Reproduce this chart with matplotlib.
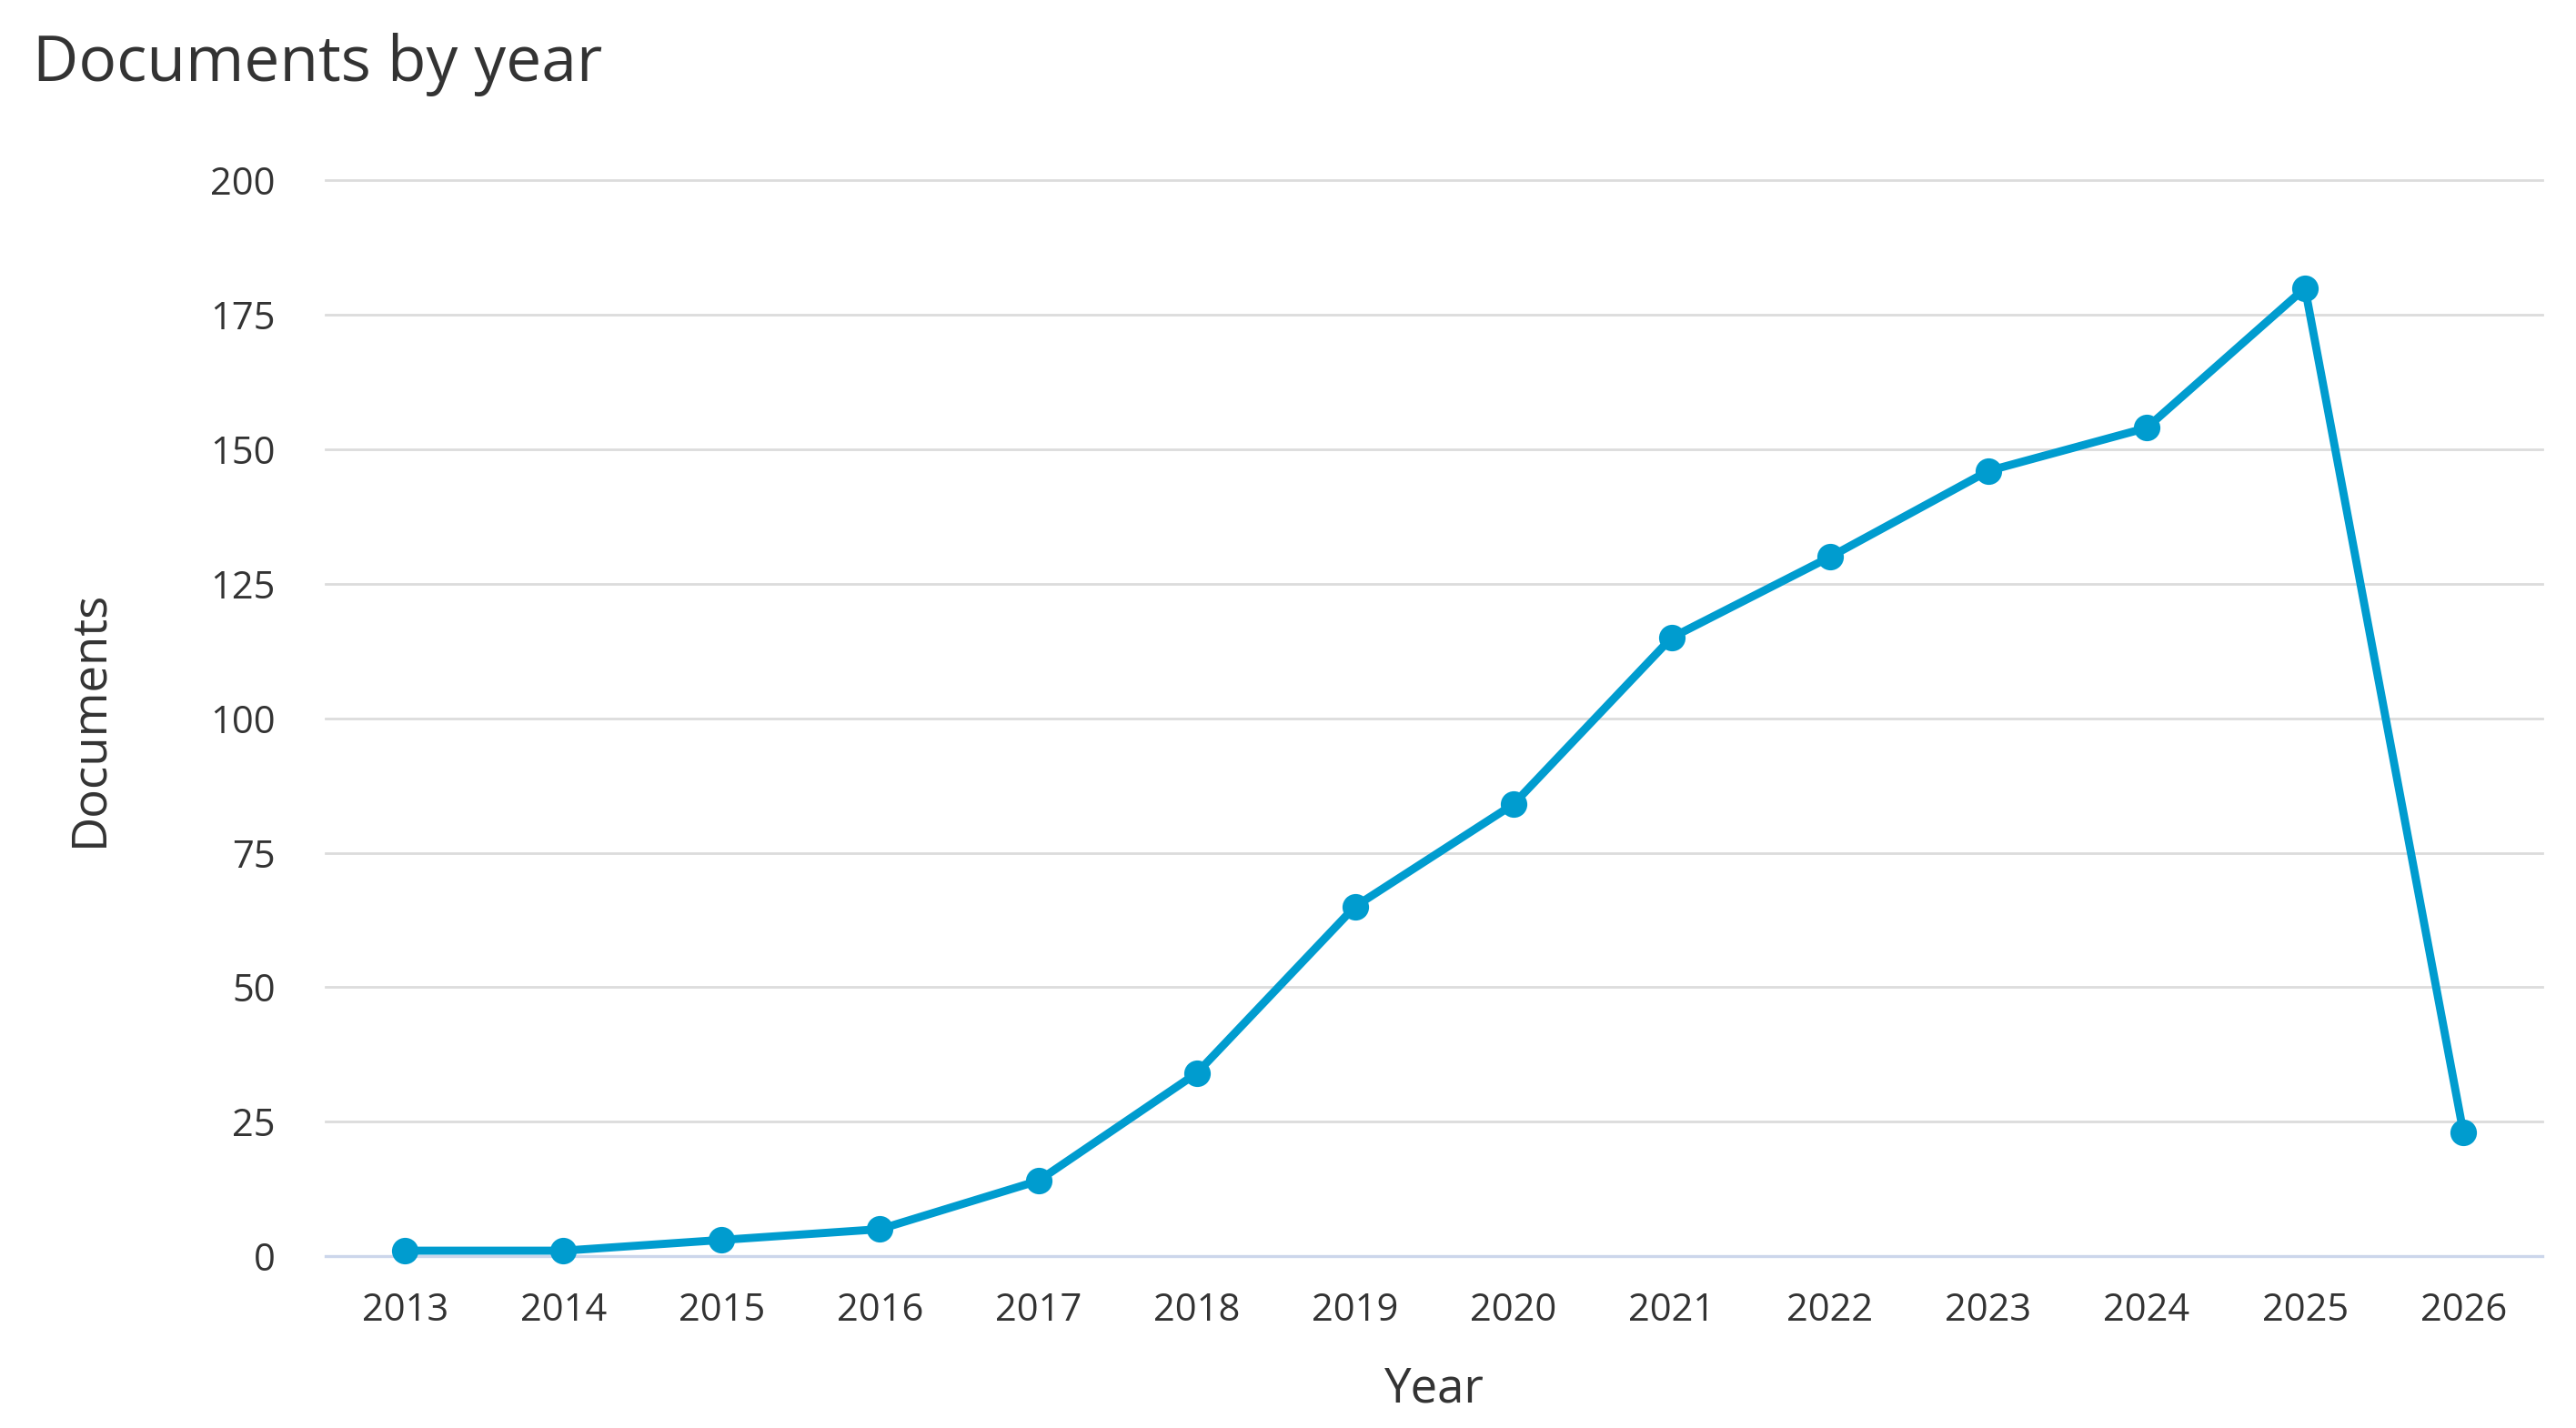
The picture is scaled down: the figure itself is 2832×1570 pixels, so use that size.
import matplotlib
matplotlib.use("Agg")
import matplotlib.pyplot as plt

years = [2013, 2014, 2015, 2016, 2017, 2018, 2019, 2020, 2021, 2022, 2023, 2024, 2025, 2026]
documents = [1, 1, 3, 5, 14, 34, 65, 84, 115, 130, 146, 154, 180, 23]
y_ticks = [0, 25, 50, 75, 100, 125, 150, 175, 200]

plt.rcParams['font.family'] = ['Open Sans', 'DejaVu Sans']

fig = plt.figure(figsize=(14.16, 7.85), dpi=200)
ax = fig.add_axes([0.1265, 0.1204, 0.8605, 0.7532])

line_color = '#009ccf'
ax.plot(years, documents, color=line_color, lw=3.2, marker='o', ms=9.5,
        zorder=3, solid_joinstyle='round')

ax.set_xlim(2012.5, 2026.5)
ax.set_ylim(0, 200)
ax.set_yticks(y_ticks)
ax.set_xticks(years)
ax.set_xticklabels([str(y) for y in years])

for y in y_ticks[1:]:
    ax.axhline(y, color='#dcdcdc', lw=1.0, zorder=1)
ax.axhline(0, color='#ccd6eb', lw=1.2, zorder=1)

for s in ax.spines.values():
    s.set_visible(False)
ax.tick_params(axis='both', length=0, labelsize=15, colors='#333333')
ax.tick_params(axis='y', pad=20)
ax.tick_params(axis='x', pad=14)
for l in ax.lines:
    l.set_clip_on(False)

ax.set_xlabel('Year', fontsize=19, color='#333333', labelpad=14)
ax.set_ylabel('Documents', fontsize=19, color='#333333', labelpad=38)

fig.text(0.0127, 0.977, 'Documents by year', fontsize=25, color='#333333',
         ha='left', va='top')

fig.savefig('out.png', dpi=200, facecolor='white')
